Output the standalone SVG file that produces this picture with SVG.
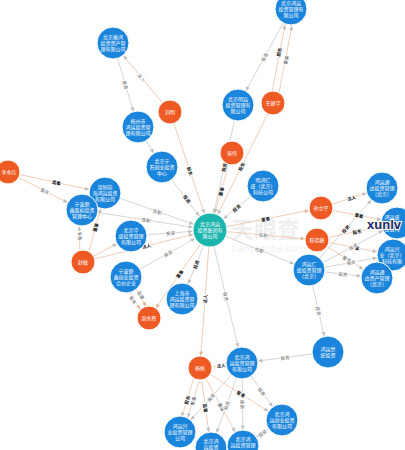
<svg xmlns="http://www.w3.org/2000/svg" width="405" height="450" viewBox="0 0 405 450">
<style>
.b{fill:#1b85dc;stroke:#ffffff;stroke-width:1}
.o{fill:#ee5a24;stroke:#ffffff;stroke-width:1}
.t{fill:#1bb5ad;stroke:#ffffff;stroke-width:1}
.nt{font-family:"Noto Sans CJK SC","Noto Sans",sans-serif;font-size:5px;fill:#ffffff;text-anchor:middle}
.e{stroke:#d0d0d0;stroke-width:0.9;fill:none}
.eo{stroke:#f1c6ab;stroke-width:0.9;fill:none}
.lb{font-family:"Noto Sans CJK SC","Noto Sans",sans-serif;font-size:4.5px;fill:#555555;text-anchor:middle;dominant-baseline:central;stroke:#ffffff;stroke-width:1.4;paint-order:stroke}
.lk{font-weight:bold;fill:#111111}
.wm{font-family:"Noto Sans CJK SC",sans-serif;fill:#000000}
</style>
<defs>
<marker id="mb" viewBox="0 0 10 10" refX="51" refY="5" markerWidth="4" markerHeight="4" markerUnits="userSpaceOnUse" orient="auto" overflow="visible"><path d="M0,0 L10,5 L0,10 z" fill="#bdbdbd"/></marker>
<marker id="mo" viewBox="0 0 10 10" refX="41" refY="5" markerWidth="4" markerHeight="4" markerUnits="userSpaceOnUse" orient="auto" overflow="visible"><path d="M0,0 L10,5 L0,10 z" fill="#e8b090"/></marker>
<marker id="mt" viewBox="0 0 10 10" refX="54" refY="5" markerWidth="4" markerHeight="4" markerUnits="userSpaceOnUse" orient="auto" overflow="visible"><path d="M0,0 L10,5 L0,10 z" fill="#bdbdbd"/></marker>
</defs>
<rect width="405" height="450" fill="#ffffff"/>
<g id="watermark" opacity="0.06">
<text class="wm" x="231" y="238" font-size="23" font-weight="bold">天眼查</text>
<text class="wm" x="231" y="252" font-size="10">tianyancha.com</text>
</g>
<g id="connectors">
<line class="e" x1="113" y1="43" x2="138" y2="127" marker-end="url(#mb)"/>
<line class="eo" x1="170" y1="112" x2="113" y2="43" marker-end="url(#mb)"/>
<line class="eo" x1="170" y1="112" x2="210" y2="230" marker-end="url(#mt)"/>
<line class="e" x1="138" y1="127" x2="162" y2="167" marker-end="url(#mb)"/>
<line class="e" x1="162" y1="167" x2="210" y2="230" marker-end="url(#mt)"/>
<line class="e" x1="291" y1="9" x2="238" y2="105" marker-end="url(#mb)"/>
<line class="eo" x1="270" y1="103" x2="288" y2="9" marker-end="url(#mb)"/>
<line class="eo" x1="277" y1="103" x2="295" y2="10" marker-end="url(#mb)"/>
<line class="e" x1="238" y1="105" x2="210" y2="230" marker-end="url(#mt)"/>
<line class="eo" x1="273" y1="103" x2="210" y2="230" marker-end="url(#mt)"/>
<line class="eo" x1="232" y1="153" x2="210" y2="230" marker-end="url(#mt)"/>
<line class="e" x1="263" y1="186" x2="210" y2="230" marker-end="url(#mt)"/>
<line class="eo" x1="8" y1="172" x2="105" y2="193" marker-end="url(#mb)"/>
<line class="eo" x1="8" y1="172" x2="82" y2="210" marker-end="url(#mb)"/>
<line class="e" x1="105" y1="193" x2="210" y2="230" marker-end="url(#mt)"/>
<line class="e" x1="82" y1="210" x2="210" y2="230" marker-end="url(#mt)"/>
<line class="eo" x1="80" y1="262" x2="79" y2="210" marker-end="url(#mb)"/>
<line class="eo" x1="86" y1="262" x2="105" y2="193" marker-end="url(#mb)"/>
<line class="e" x1="131" y1="236" x2="210" y2="230" marker-end="url(#mt)"/>
<line class="eo" x1="83" y1="262" x2="210" y2="230" marker-end="url(#mt)"/>
<line class="eo" x1="83" y1="262" x2="131" y2="236" marker-end="url(#mb)"/>
<line class="e" x1="126" y1="277" x2="210" y2="230" marker-end="url(#mt)"/>
<line class="eo" x1="123" y1="279" x2="146" y2="320" marker-end="url(#mo)"/>
<line class="eo" x1="129" y1="276" x2="152" y2="317" marker-end="url(#mo)"/>
<line class="eo" x1="210" y1="230" x2="149" y2="318" marker-end="url(#mo)"/>
<line class="e" x1="210" y1="230" x2="182" y2="299" marker-end="url(#mb)"/>
<line class="eo" x1="210" y1="230" x2="200" y2="368" marker-end="url(#mo)"/>
<line class="e" x1="210" y1="230" x2="242" y2="363" marker-end="url(#mb)"/>
<line class="eo" x1="210" y1="230" x2="321" y2="208" marker-end="url(#mo)"/>
<line class="eo" x1="210" y1="230" x2="317" y2="240" marker-end="url(#mo)"/>
<line class="e" x1="210" y1="230" x2="309" y2="270" marker-end="url(#mb)"/>
<line class="eo" x1="321" y1="208" x2="382" y2="188" marker-end="url(#mb)"/>
<line class="eo" x1="321" y1="208" x2="397" y2="223" marker-end="url(#mb)"/>
<line class="eo" x1="317" y1="240" x2="397" y2="223" marker-end="url(#mb)"/>
<line class="eo" x1="317" y1="240" x2="393" y2="255" marker-end="url(#mb)"/>
<line class="eo" x1="317" y1="240" x2="377" y2="278" marker-end="url(#mb)"/>
<line class="e" x1="309" y1="270" x2="382" y2="188" marker-end="url(#mb)"/>
<line class="e" x1="309" y1="270" x2="397" y2="223" marker-end="url(#mb)"/>
<line class="e" x1="309" y1="270" x2="393" y2="255" marker-end="url(#mb)"/>
<line class="e" x1="309" y1="270" x2="377" y2="278" marker-end="url(#mb)"/>
<line class="e" x1="309" y1="270" x2="328" y2="352" marker-end="url(#mb)"/>
<line class="e" x1="328" y1="352" x2="242" y2="363" marker-end="url(#mb)"/>
<line class="eo" x1="200" y1="368" x2="242" y2="363" marker-end="url(#mb)"/>
<line class="eo" x1="197" y1="368" x2="177" y2="432" marker-end="url(#mb)"/>
<line class="eo" x1="203" y1="369" x2="183" y2="433" marker-end="url(#mb)"/>
<line class="eo" x1="200" y1="368" x2="211" y2="448" marker-end="url(#mb)"/>
<line class="eo" x1="200" y1="368" x2="243" y2="446" marker-end="url(#mb)"/>
<line class="eo" x1="200" y1="368" x2="282" y2="420" marker-end="url(#mb)"/>
<line class="e" x1="242" y1="363" x2="180" y2="432" marker-end="url(#mb)"/>
<line class="e" x1="242" y1="363" x2="211" y2="448" marker-end="url(#mb)"/>
<line class="e" x1="242" y1="363" x2="243" y2="446" marker-end="url(#mb)"/>
<line class="e" x1="242" y1="363" x2="282" y2="420" marker-end="url(#mb)"/>
<line class="e" x1="282" y1="420" x2="243" y2="446" marker-end="url(#mb)"/>
<g id="edge-labels">
<text class="lb" x="125.5" y="85" transform="rotate(73 125.5 85)">投资</text>
<text class="lb" x="141.5" y="77.5" transform="rotate(50 141.5 77.5)">法人</text>
<text class="lb lk" x="190" y="171" transform="rotate(71 190 171)">股东</text>
<text class="lb lk" x="187" y="199" transform="rotate(53 187 199)">投资</text>
<text class="lb" x="264.5" y="57" transform="rotate(-61 264.5 57)">投资</text>
<text class="lb lk" x="279" y="52" transform="rotate(-79 279 52)">股东</text>
<text class="lb" x="286" y="60" transform="rotate(-79 286 60)">董事</text>
<text class="lb lk" x="224" y="167.5" transform="rotate(-77 224 167.5)">投资</text>
<text class="lb lk" x="241.5" y="166.5" transform="rotate(-64 241.5 166.5)">股东</text>
<text class="lb lk" x="221" y="191.5" transform="rotate(-74 221 191.5)">董事</text>
<text class="lb lk" x="236.5" y="208" transform="rotate(-40 236.5 208)">投资</text>
<text class="lb lk" x="56.5" y="182.5" transform="rotate(12 56.5 182.5)">监事</text>
<text class="lb" x="45" y="191" transform="rotate(27 45 191)">股东</text>
<text class="lb" x="157.5" y="211.5" transform="rotate(19 157.5 211.5)">任职</text>
<text class="lb" x="146" y="220" transform="rotate(9 146 220)">任职</text>
<text class="lb" x="79.5" y="236" transform="rotate(-89 79.5 236)">股东</text>
<text class="lb lk" x="95.5" y="227.5" transform="rotate(-75 95.5 227.5)">董事</text>
<text class="lb" x="170.5" y="233" transform="rotate(-4 170.5 233)">投资</text>
<text class="lb lk" x="146.5" y="246" transform="rotate(-14 146.5 246)">法人</text>
<text class="lb" x="168" y="253.5" transform="rotate(-29 168 253.5)">投资</text>
<text class="lb" x="133" y="300" transform="rotate(61 133 300)">股东</text>
<text class="lb" x="141" y="295" transform="rotate(61 141 295)">监事</text>
<text class="lb lk" x="179.5" y="274" transform="rotate(-55 179.5 274)">董事</text>
<text class="lb lk" x="196" y="264.5" transform="rotate(-68 196 264.5)">投资</text>
<text class="lb lk" x="205" y="299" transform="rotate(-86 205 299)">法人</text>
<text class="lb" x="226" y="296.5" transform="rotate(76 226 296.5)">投资</text>
<text class="lb lk" x="265.5" y="219" transform="rotate(-11 265.5 219)">董事</text>
<text class="lb" x="263.5" y="235" transform="rotate(5 263.5 235)">任职</text>
<text class="lb" x="259.5" y="250" transform="rotate(22 259.5 250)">任职</text>
<text class="lb lk" x="351.5" y="198" transform="rotate(-18 351.5 198)">法人</text>
<text class="lb lk" x="359" y="215.5" transform="rotate(11 359 215.5)">董事</text>
<text class="lb lk" x="357" y="231.5" transform="rotate(-12 357 231.5)">股东</text>
<text class="lb lk" x="355" y="247.5" transform="rotate(11 355 247.5)">监事</text>
<text class="lb" x="347" y="259" transform="rotate(32 347 259)">董事</text>
<text class="lb lk" x="345.5" y="229" transform="rotate(-48 345.5 229)">投资</text>
<text class="lb" x="353" y="246.5" transform="rotate(-28 353 246.5)">投资</text>
<text class="lb" x="351" y="262.5" transform="rotate(-10 351 262.5)">投资</text>
<text class="lb" x="343" y="274" transform="rotate(7 343 274)">投资</text>
<text class="lb" x="318.5" y="311" transform="rotate(77 318.5 311)">投资</text>
<text class="lb" x="285" y="357.5" transform="rotate(-7 285 357.5)">投资</text>
<text class="lb lk" x="221" y="365.5" transform="rotate(-7 221 365.5)">法人</text>
<text class="lb lk" x="187" y="400" transform="rotate(-73 187 400)">股东</text>
<text class="lb" x="193" y="401" transform="rotate(-73 193 401)">董事</text>
<text class="lb lk" x="205.5" y="408" transform="rotate(82 205.5 408)">监事</text>
<text class="lb" x="221.5" y="407" transform="rotate(61 221.5 407)">董事</text>
<text class="lb lk" x="241" y="394" transform="rotate(32 241 394)">董事</text>
<text class="lb" x="211" y="397.5" transform="rotate(-48 211 397.5)">投资</text>
<text class="lb" x="226.5" y="405.5" transform="rotate(-70 226.5 405.5)">投资</text>
<text class="lb" x="242.5" y="404.5" transform="rotate(89 242.5 404.5)">投资</text>
<text class="lb" x="262" y="391.5" transform="rotate(55 262 391.5)">投资</text>
<text class="lb" x="262.5" y="433" transform="rotate(-34 262.5 433)">投资</text>
</g>
</g>
<g id="n1"><circle class="b" cx="113" cy="43" r="16"/><text class="nt" x="113" y="38.7">北京雅鸿</text><text class="nt" x="113" y="44.7">投资资产管</text><text class="nt" x="113" y="50.7">理有限公司</text></g>
<g id="n2"><circle class="b" cx="291" cy="9" r="16"/><text class="nt" x="291" y="4.7">北京鸿运</text><text class="nt" x="291" y="10.7">投资管理有</text><text class="nt" x="291" y="16.7">限公司</text></g>
<g id="n3"><circle class="b" cx="138" cy="127" r="16"/><text class="nt" x="138" y="122.7">梅州市</text><text class="nt" x="138" y="128.7">鸿运投资管</text><text class="nt" x="138" y="134.7">理有限公司</text></g>
<g id="n4"><circle class="b" cx="238" cy="105" r="16"/><text class="nt" x="238" y="100.7">北京明远</text><text class="nt" x="238" y="106.7">投资管理有</text><text class="nt" x="238" y="112.7">限公司</text></g>
<g id="p5"><circle class="o" cx="170" cy="112" r="12"/><text class="nt" x="170" y="113.8">刘明</text></g>
<g id="p6"><circle class="o" cx="273" cy="103" r="12"/><text class="nt" x="273" y="104.8">王建华</text></g>
<g id="p7"><circle class="o" cx="232" cy="153" r="12"/><text class="nt" x="232" y="154.8">张伟</text></g>
<g id="p8"><circle class="o" cx="8" cy="172" r="12"/><text class="nt" x="9" y="173.8">李永红</text></g>
<g id="n9"><circle class="b" cx="162" cy="167" r="16"/><text class="nt" x="162" y="162.7">北京宁</text><text class="nt" x="162" y="168.7">石创业投资</text><text class="nt" x="162" y="174.7">中心</text></g>
<g id="n10"><circle class="b" cx="105" cy="193" r="16"/><text class="nt" x="105" y="188.7">深圳前</text><text class="nt" x="105" y="194.7">海鸿运投资</text><text class="nt" x="105" y="200.7">有限公司</text></g>
<g id="n11"><circle class="b" cx="82" cy="210" r="16"/><text class="nt" x="82" y="205.7">宁波鼎</text><text class="nt" x="82" y="211.7">鑫股权投资</text><text class="nt" x="82" y="217.7">管理中心</text></g>
<g id="n12"><circle class="b" cx="131" cy="236" r="16"/><text class="nt" x="131" y="231.7">北京华</text><text class="nt" x="131" y="237.7">盛投资管理</text><text class="nt" x="131" y="243.7">有限公司</text></g>
<g id="p13"><circle class="o" cx="83" cy="262" r="12"/><text class="nt" x="83" y="263.8">赵敏</text></g>
<g id="n14"><circle class="b" cx="126" cy="277" r="16"/><text class="nt" x="126" y="272.7">宁波鼎</text><text class="nt" x="126" y="278.7">鑫创业投资</text><text class="nt" x="126" y="284.7">合伙企业</text></g>
<g id="center"><circle class="t" cx="210" cy="230" r="17"/><text class="nt" x="210" y="225.7">北京鸿运</text><text class="nt" x="210" y="231.7">投资集团有</text><text class="nt" x="210" y="237.7">限公司</text></g>
<g id="n15"><circle class="b" cx="263" cy="186" r="16"/><text class="nt" x="263" y="181.7">明鸿仁</text><text class="nt" x="263" y="187.7">盛（北京）</text><text class="nt" x="263" y="193.7">科技公司</text></g>
<g id="p16"><circle class="o" cx="321" cy="208" r="12"/><text class="nt" x="321" y="209.8">孙立平</text></g>
<g id="p17"><circle class="o" cx="317" cy="240" r="12"/><text class="nt" x="317" y="241.8">陈晓峰</text></g>
<g id="n18"><circle class="b" cx="382" cy="188" r="16"/><text class="nt" x="382" y="183.7">鸿运通</text><text class="nt" x="382" y="189.7">达投资管理</text><text class="nt" x="382" y="195.7">（北京）</text></g>
<g id="n19"><circle class="b" cx="397" cy="223" r="16"/><text class="nt" x="392" y="218.7">鸿运盛</text><text class="nt" x="391" y="224.7">世投资管</text><text class="nt" x="392" y="230.7">理公司</text></g>
<g id="n20"><circle class="b" cx="393" cy="255" r="16"/><text class="nt" x="392" y="250.7">鸿运兴</text><text class="nt" x="392" y="256.7">业（北京）</text><text class="nt" x="392" y="262.7">科技有限</text></g>
<g id="n21"><circle class="b" cx="377" cy="278" r="16"/><text class="nt" x="377" y="273.7">鸿运通</text><text class="nt" x="377" y="279.7">达资产管理</text><text class="nt" x="377" y="285.7">（北京）</text></g>
<g id="n22"><circle class="b" cx="309" cy="270" r="16"/><text class="nt" x="309" y="265.7">鸿运仁</text><text class="nt" x="309" y="271.7">盛投资管理</text><text class="nt" x="309" y="277.7">（北京）</text></g>
<g id="n24"><circle class="b" cx="182" cy="299" r="16"/><text class="nt" x="182" y="294.7">上海市</text><text class="nt" x="182" y="300.7">鸿运投资管</text><text class="nt" x="182" y="306.7">理有限公司</text></g>
<g id="p25"><circle class="o" cx="149" cy="318" r="12"/><text class="nt" x="149" y="319.8">周永辉</text></g>
<g id="p26"><circle class="o" cx="200" cy="368" r="12"/><text class="nt" x="200" y="369.8">杨帆</text></g>
<g id="n27"><circle class="b" cx="242" cy="363" r="16"/><text class="nt" x="242" y="358.7">北京鸿</text><text class="nt" x="242" y="364.7">运投资管理</text><text class="nt" x="242" y="370.7">有限公司</text></g>
<g id="n28"><circle class="b" cx="282" cy="420" r="16"/><text class="nt" x="282" y="415.7">北京鸿</text><text class="nt" x="282" y="421.7">运创业投资</text><text class="nt" x="282" y="427.7">有限公司</text></g>
<g id="n29"><circle class="b" cx="180" cy="432" r="16"/><text class="nt" x="180" y="427.7">鸿运兴</text><text class="nt" x="180" y="433.7">业投资管理</text><text class="nt" x="180" y="439.7">公司</text></g>
<g id="n30"><circle class="b" cx="211" cy="448" r="16"/><text class="nt" x="211" y="442.7">北京鸿</text><text class="nt" x="211" y="448.7">运投资</text></g>
<g id="n31"><circle class="b" cx="243" cy="446" r="16"/><text class="nt" x="243" y="440.7">北京鸿</text><text class="nt" x="243" y="446.7">运投资管理</text></g>
<g id="n32"><circle class="b" cx="328" cy="352" r="16"/><text class="nt" x="328" y="350.7">鸿运世</text><text class="nt" x="328" y="356.7">纪投资</text></g>
<text x="384" y="229" font-family="Liberation Sans, Arial, sans-serif" font-size="13" font-weight="bold" fill="#1a2a78" text-anchor="middle" stroke="#fffbe0" stroke-width="2" paint-order="stroke">xunlv</text>
</svg>
